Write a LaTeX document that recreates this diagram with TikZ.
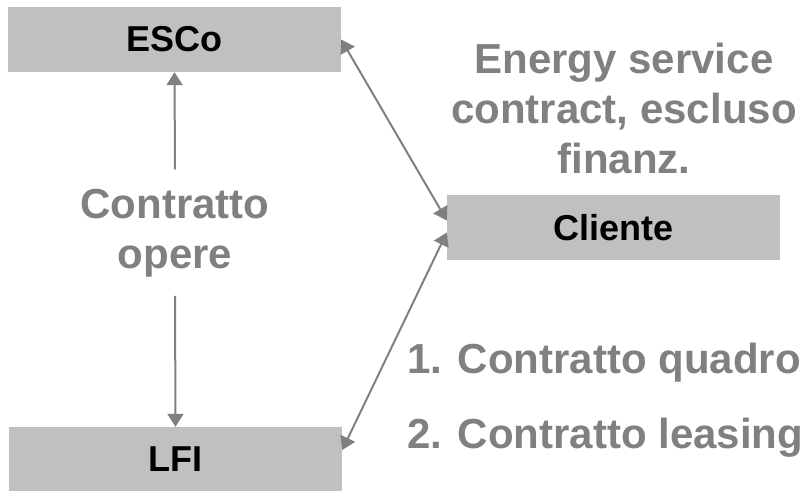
\documentclass[tikz,border=0pt]{standalone}
\usepackage{fontspec}
\setmainfont{Liberation Sans}
\usepackage{xcolor}
\usetikzlibrary{arrows.meta,calc}

\definecolor{grigioBox}{RGB}{192,192,194}
\definecolor{grigioTesto}{RGB}{128,128,128}

\begin{document}
\begin{tikzpicture}[x=1pt,y=-1pt,
		box/.style={fill=grigioBox, minimum width=333pt, minimum height=65pt, inner sep=0pt,
			font=\fontsize{36}{43}\selectfont\bfseries},
		testo/.style={text=grigioTesto, align=center, inner sep=0pt,
			font=\fontsize{42}{50}\selectfont\bfseries},
		freccia/.style={draw=grigioTesto, line width=2pt, -{Triangle[length=13pt,width=16pt]}},
		doppia/.style={freccia, {Triangle[length=13pt,width=16pt]}-{Triangle[length=13pt,width=16pt]}}
	]
	
	%--- Area ---
	\useasboundingbox (0,0) rectangle (805,491);
	
	%--- Riquadri ---
	\node[box] (esco) at (174.5,39.5) {ESCo};
	\node[box] (cliente) at (613.5,227.5) {Cliente};
	\node[box, minimum height=64pt] (lfi) at (175.5,459) {LFI};
	
	%--- Testi (base = ultima riga) ---
	\node[testo, anchor=base, inner ysep=19pt] (opere) at (175,268) {Contratto\\opere};
	\node[testo, anchor=base] (servizio) at (624,173) {Energy service\\contract, escluso\\finanz.};
	\node[testo, anchor=base west] (quadro) at (407,373) {1. Contratto quadro};
	\node[testo, anchor=base west] (leasing) at (407,448) {2. Contratto leasing};
	
	%--- Frecce ---
	\draw[freccia] (opere.north) -- (esco.south);
	\draw[freccia] (opere.south) -- (lfi.north);
	\draw[doppia] (esco.east) -- ([yshift=7pt]cliente.west);
	\draw[doppia] ([yshift=-5pt]cliente.west) -- ([yshift=9pt]lfi.east);
	
\end{tikzpicture}
\end{document}
